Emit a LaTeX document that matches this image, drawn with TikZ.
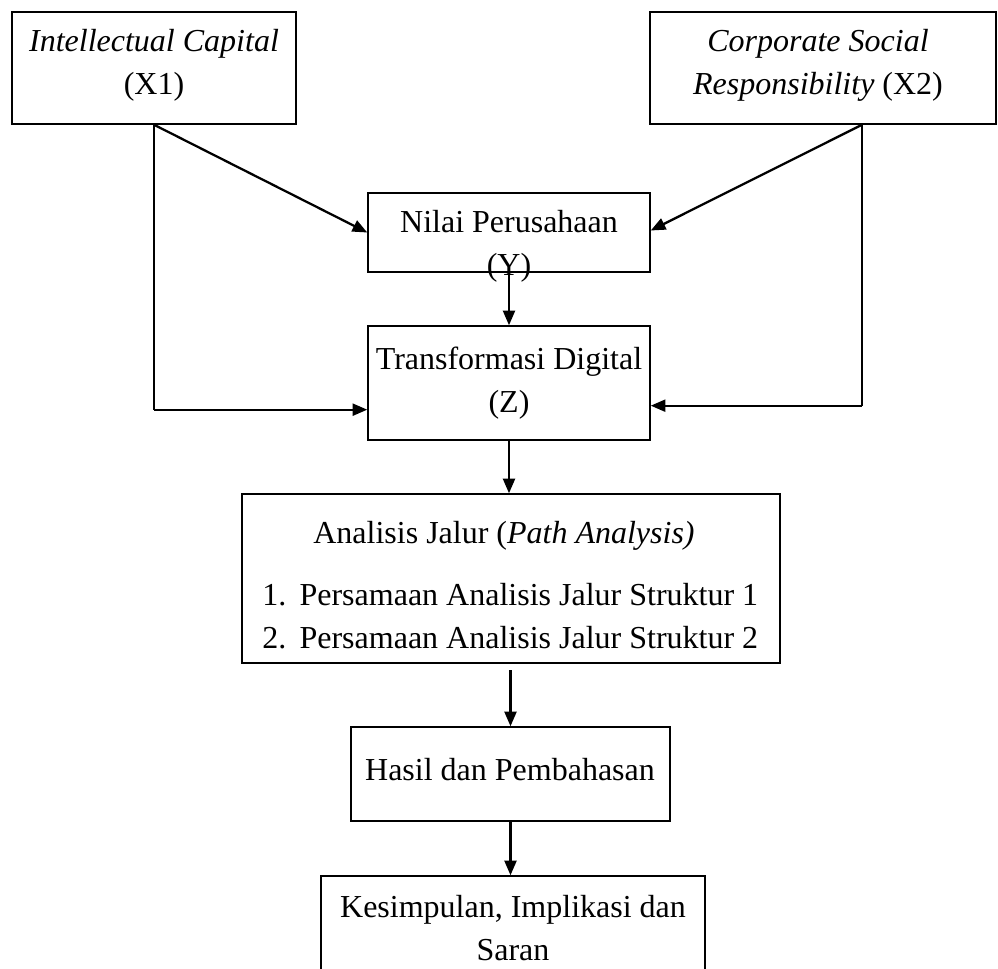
\documentclass[tikz,border=0pt]{standalone}
\usepackage{fontspec}
\setmainfont{Liberation Serif}
\usetikzlibrary{arrows.meta}

\begin{document}
\begin{tikzpicture}[x=0.75pt,y=0.75pt,yscale=-1,
  box/.style={draw, line width=1.1pt, inner sep=0pt},
  txt/.style={inner sep=0pt, align=center, font=\fontsize{24}{32.25}\selectfont},
  conn/.style={line width=1.7pt, -{Triangle[length=11pt,width=9pt]}},
  link/.style={line width=1.1pt}]
\useasboundingbox (0,0) rectangle (998,968);

%Shape: Rectangle [id:x1]
\node [box, minimum width=213pt, minimum height=84pt] (x1) at (154,68) {};
%Shape: Rectangle [id:x2]
\node [box, minimum width=259.5pt, minimum height=84pt] (x2) at (823,68) {};
%Shape: Rectangle [id:y]
\node [box, minimum width=211.5pt, minimum height=59.25pt] (y) at (509,232.5) {};
%Shape: Rectangle [id:z]
\node [box, minimum width=211.5pt, minimum height=85.5pt] (z) at (509,383) {};
%Shape: Rectangle [id:pa]
\node [box, minimum width=403.5pt, minimum height=126.75pt] (pa) at (511,578.5) {};
%Shape: Rectangle [id:hp]
\node [box, minimum width=239.25pt, minimum height=70.5pt] (hp) at (510.5,774) {};
%Shape: Rectangle [id:ks]
\node [box, minimum width=288pt, minimum height=93pt] (ks) at (513,938) {};

\coordinate (zin1) at ([yshift=20pt]z.west);
\coordinate (zin2) at ([yshift=17pt]z.east);
\coordinate (x2out) at ([xshift=29.25pt]x2.south);

%Straight Lines [id:x1-y]
\draw [conn] (x1.south) -- (y.west) ;
%Straight Lines [id:x1-z]
\draw [link] (x1.south) -- (x1.south |- zin1) ;
\draw [conn] (x1.south |- zin1) -- (zin1) ;
%Straight Lines [id:x2-y]
\draw [conn] (x2out) -- ([yshift=-1.5pt]y.east) ;
%Straight Lines [id:x2-z]
\draw [link] (x2out) -- (x2out |- zin2) ;
\draw [conn] (x2out |- zin2) -- (zin2) ;
%Straight Lines [id:y-z]
\draw [conn] (y.south) -- (z.north) ;
%Straight Lines [id:z-pa]
\draw [conn] (z.south) -- (z.south |- pa.north) ;
%Straight Lines [id:pa-hp]
\draw [conn, shorten <=5pt] (hp.north |- pa.south) -- (hp.north) ;
%Straight Lines [id:hp-ks]
\draw [conn] (hp.south) -- (hp.south |- ks.north) ;

% Text Node
\node [txt] (x1t) at (154,65) {\textit{Intellectual Capital}\\(X1)};
% Text Node
\node [txt] (x2t) at (818,65) {\textit{Corporate Social}\\\textit{Responsibility} (X2)};
% Text Node
\node [txt] (yt1) at (509,222) {Nilai Perusahaan};
% Text Node
\node [txt] (yt2) at (509,268) {(Y)};
% Text Node
\node [txt] (zt) at (509,383) {Transformasi Digital\\(Z)};
% Text Node
\node [txt] (pat) at (504,536) {Analisis Jalur (\textit{Path Analysis)}};
% Text Node
\node [txt, anchor=west, align=left] (pal) at (262,616) {1.\hspace{10pt}Persamaan Analisis Jalur Struktur 1\\2.\hspace{10pt}Persamaan Analisis Jalur Struktur 2};
% Text Node
\node [txt] (hpt) at (510,770) {Hasil dan Pembahasan};
% Text Node
\node [txt] (kst) at (513,928) {Kesimpulan, Implikasi dan\\Saran};

\end{tikzpicture}
\end{document}
